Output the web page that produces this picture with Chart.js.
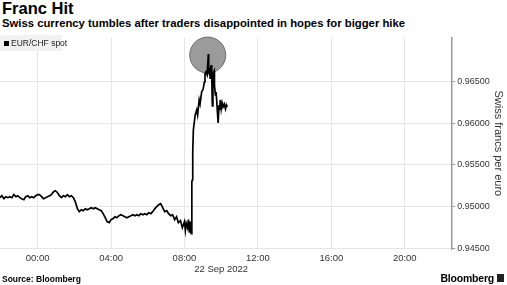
<!DOCTYPE html>
<html>
<head>
<meta charset="utf-8">
<title>Franc Hit</title>
<script src="https://cdn.jsdelivr.net/npm/chart.js@4.4.0/dist/chart.umd.min.js"></script>
<style>
  html, body { margin: 0; padding: 0; background: #fff; }
  body { width: 507px; height: 285px; position: relative; overflow: hidden;
         font-family: "Liberation Sans", Arial, sans-serif; color: #000; }
  #title { position: absolute; left: 2px; top: -1px; font-size: 16.5px; font-weight: bold; line-height: 19px; }
  #subtitle { position: absolute; left: 2px; top: 17px; font-size: 11.3px; font-weight: bold; line-height: 13px; white-space: nowrap; }
  #chartBox { position: absolute; left: 0; top: 30px; width: 507px; height: 248px; }
  #legend { position: absolute; left: 0; top: 35px; width: 62px; height: 16px; background: #f1f1f1;
            font-size: 8.5px; line-height: 16px; color: #222; white-space: nowrap; }
  #legend span { display: inline-block; width: 5px; height: 5px; background: #000; margin: 0 2px 0 4px; vertical-align: 0; }
  #source { position: absolute; left: 2px; top: 274px; font-size: 8.5px; font-weight: bold; line-height: 10px; }
  #brand { position: absolute; right: 13px; top: 272px; font-size: 10.5px; font-weight: bold; line-height: 12px; letter-spacing: -0.2px; }
  #brandIcon { position: absolute; left: 497px; top: 274px; width: 7px; height: 8px; background: #222; }
</style>
</head>
<body>
<div id="title">Franc Hit</div>
<div id="subtitle">Swiss currency tumbles after traders disappointed in hopes for bigger hike</div>
<div id="chartBox"><canvas id="fxChart" width="507" height="248"></canvas></div>
<div id="legend"><span></span>EUR/CHF spot</div>
<div id="source">Source: Bloomberg</div>
<div id="brand">Bloomberg</div>
<div id="brandIcon"></div>
<script>
// EUR/CHF spot, minutes from 00:00 on 22 Sep 2022 (negative = evening of 21 Sep)
const times = [
  -123, -117, -110, -104, -97, -91, -84, -78, -71, -65, -58, -52, -45, -39, -32, -26, -19, -13, -6,
  0, 6, 13, 19, 26, 32, 39, 45, 52, 58, 65, 71, 78, 84, 91, 97, 104, 110, 117,
  123, 130, 136, 143, 149, 156, 162, 169, 175, 182, 188, 195, 201, 208, 214, 221, 227, 234,
  240, 246, 253, 259, 266, 272, 279, 285, 292, 298, 305, 311, 318, 324, 331, 337, 344, 350, 357,
  363, 370, 376, 383, 389, 396, 402, 409, 415, 422, 428, 435, 441, 448, 454, 460, 467, 473,
  480, 483, 486, 490, 493, 496, 499, 502, 504, 506, 507, 509,
  515, 520, 523, 528, 531, 536, 541, 545, 547, 550, 554, 558, 559, 562, 564, 567, 569, 571,
  573, 577, 578, 581, 583, 585, 587, 590, 593, 595, 597, 600, 603, 606, 610, 614, 617, 620
];
const values = [
  0.95108, 0.95132, 0.95096, 0.95120, 0.95108, 0.95120, 0.95108, 0.95144, 0.95120, 0.95132,
  0.95108, 0.95096, 0.95084, 0.95120, 0.95132, 0.95108, 0.95120, 0.95108, 0.95132,
  0.95144, 0.95144, 0.95120, 0.95096, 0.95108, 0.95120, 0.95132, 0.95144, 0.95179, 0.95191,
  0.95167, 0.95132, 0.95108, 0.95132, 0.95120, 0.95144, 0.95120, 0.95132, 0.95108,
  0.95060, 0.94976, 0.94940, 0.94964, 0.94952, 0.94976, 0.94964, 0.94976, 0.94988, 0.94976,
  0.94988, 0.94976, 0.94964, 0.94952, 0.94916, 0.94868, 0.94821, 0.94809,
  0.94845, 0.94856, 0.94880, 0.94868, 0.94892, 0.94904, 0.94892, 0.94880, 0.94868, 0.94880,
  0.94892, 0.94904, 0.94892, 0.94904, 0.94892, 0.94916, 0.94904, 0.94916, 0.94904,
  0.94928, 0.94916, 0.94940, 0.94976, 0.95000, 0.95024, 0.95036, 0.94988, 0.94940, 0.94952,
  0.94916, 0.94892, 0.94904, 0.94845, 0.94880, 0.94809, 0.94833, 0.94749,
  0.94821, 0.94713, 0.94797, 0.94749, 0.94845, 0.94689, 0.94821, 0.94677, 0.95299, 0.95323,
  0.95658, 0.95921,
  0.96100, 0.96160, 0.96100, 0.96280, 0.96232, 0.96375, 0.96411, 0.96495, 0.96591, 0.96615,
  0.96579, 0.96830, 0.96615, 0.96639, 0.96531, 0.96698, 0.96591, 0.96208,
  0.96591, 0.96627, 0.96459, 0.96340, 0.96375, 0.96292, 0.96172, 0.96005, 0.96220, 0.96160,
  0.96280, 0.96172, 0.96244, 0.96196, 0.96232, 0.96172, 0.96220, 0.96196
];

// Highlight circle around the post-decision peak
const highlightTime = 556;
const highlightValue = 0.96818;

// Axes
const xMin = -123;
const xMax = 1352;
const xTicks = [0, 240, 480, 600, 720, 960, 1200];
const dateTick = 600;
const dateLabel = '22 Sep 2022';
const yMin = 0.9449;
const yMax = 0.9703;
const yTicks = [0.945, 0.950, 0.955, 0.960, 0.965];

function hhmm(minutes) {
  const h = Math.floor(minutes / 60);
  return String(h).padStart(2, '0') + ':00';
}

const gridColor = '#e6e6e6';
const ctx = document.getElementById('fxChart').getContext('2d');

new Chart(ctx, {
  type: 'line',
  data: {
    datasets: [
      {
        label: 'EUR/CHF spot',
        data: times.map((t, i) => ({ x: t, y: values[i] })),
        borderColor: '#000',
        borderWidth: 1.7,
        pointRadius: 0,
        tension: 0,
        order: 0
      },
      {
        type: 'bubble',
        label: 'highlight',
        data: [{ x: highlightTime, y: highlightValue }],
        radius: 18,
        backgroundColor: '#9b9b9b',
        borderColor: '#6a6a6a',
        borderWidth: 1,
        clip: false,
        order: 1
      }
    ]
  },
  options: {
    responsive: false,
    animation: false,
    devicePixelRatio: 1,
    layout: { autoPadding: false, padding: { top: 5, right: 2, bottom: 0, left: 0 } },
    plugins: {
      legend: { display: false },
      tooltip: { enabled: false }
    },
    scales: {
      x: {
        type: 'linear',
        min: xMin,
        max: xMax,
        afterBuildTicks: axis => { axis.ticks = xTicks.map(v => ({ value: v })); },
        grid: {
          color: c => (c.tick && c.tick.value === dateTick) ? 'rgba(0,0,0,0)' : gridColor,
          drawTicks: false
        },
        border: { display: false },
        ticks: {
          autoSkip: false,
          maxRotation: 0,
          padding: 3,
          color: '#333',
          font: { family: 'Liberation Sans', size: 9.5 },
          callback: v => v === dateTick ? ['', dateLabel] : hhmm(v)
        }
      },
      y: {
        position: 'right',
        min: yMin,
        max: yMax,
        afterBuildTicks: axis => { axis.ticks = yTicks.map(v => ({ value: v })); },
        grid: { color: gridColor, tickColor: '#999', tickLength: 4 },
        border: { color: '#999', width: 1.5 },
        ticks: {
          padding: 2,
          color: '#333',
          font: { family: 'Liberation Sans', size: 9 },
          callback: v => v.toFixed(5)
        },
        title: {
          display: true,
          text: 'Swiss francs per euro',
          color: '#333',
          padding: 0,
          font: { family: 'Liberation Sans', size: 11 }
        }
      }
    }
  }
});
</script>
</body>
</html>
